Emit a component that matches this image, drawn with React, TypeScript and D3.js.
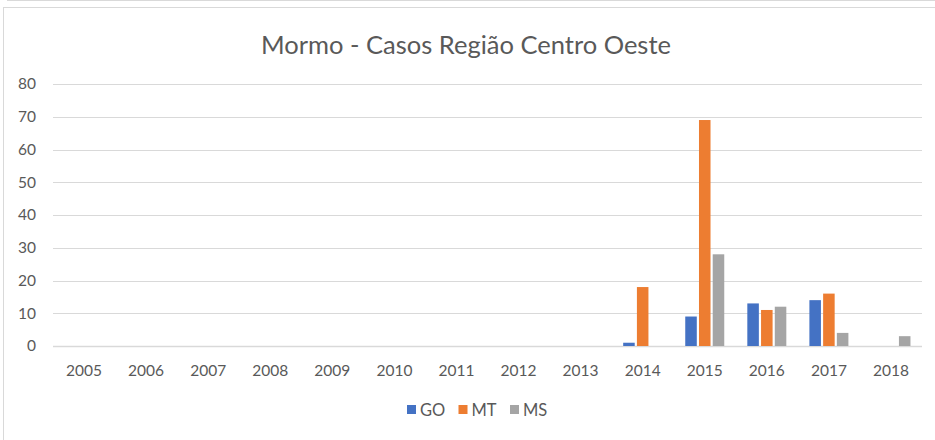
import React, { useEffect, useRef } from 'react';
import * as d3 from 'd3';

const years = ['2005', '2006', '2007', '2008', '2009', '2010', '2011', '2012', '2013', '2014', '2015', '2016', '2017', '2018'];
const seriesNames = ['GO', 'MT', 'MS'];
const seriesColors = ['#4472C4', '#ED7D31', '#A5A5A5'];
const goValues = [0, 0, 0, 0, 0, 0, 0, 0, 0, 1, 9, 13, 14, 0];
const mtValues = [0, 0, 0, 0, 0, 0, 0, 0, 0, 18, 69, 11, 16, 0];
const msValues = [0, 0, 0, 0, 0, 0, 0, 0, 0, 0, 28, 12, 4, 3];
const yTicks = [0, 10, 20, 30, 40, 50, 60, 70, 80];

const width = 935;
const height = 440;

const ColumnChart = () => {
    const svgRef = useRef<SVGSVGElement>(null);

    useEffect(() => {
        const svg = d3.select(svgRef.current);
        svg.selectAll('*').remove();

        const font = 'Lato, "Open Sans", sans-serif';
        const textColor = '#595959';
        const gridColor = '#d9d9d9';

        // chart frame
        svg.append('line')
            .attr('x1', 7).attr('x2', width).attr('y1', 0.5).attr('y2', 0.5)
            .attr('stroke', gridColor);
        svg.append('rect')
            .attr('x', 3.5).attr('y', 7.5)
            .attr('width', width).attr('height', height)
            .attr('fill', '#fff')
            .attr('stroke', gridColor);

        const plot = { left: 53, right: 922, top: 84, bottom: 346 };

        const x = d3.scaleBand()
            .domain(years)
            .range([plot.left, plot.right])
            .padding(0);

        const y = d3.scaleLinear()
            .domain([0, 80])
            .range([plot.bottom, plot.top]);

        const inner = d3.scaleBand()
            .domain(seriesNames)
            .range([-19.5, 19.5])
            .paddingInner(0.16)
            .paddingOuter(0);

        // title
        svg.append('text')
            .attr('x', 466)
            .attr('y', 54)
            .attr('text-anchor', 'middle')
            .attr('font-family', font)
            .attr('font-size', '25.5px')
            .attr('fill', textColor)
            .text('Mormo - Casos Região Centro Oeste');

        // gridlines
        svg.append('g')
            .selectAll('line')
            .data(yTicks)
            .enter()
            .append('line')
            .attr('x1', plot.left)
            .attr('x2', plot.right)
            .attr('y1', d => Math.round(y(d)) + 0.5)
            .attr('y2', d => Math.round(y(d)) + 0.5)
            .attr('stroke', gridColor)
            .attr('stroke-width', d => d === 0 ? 1.5 : 1);

        // y tick labels
        svg.append('g')
            .selectAll('text')
            .data(yTicks)
            .enter()
            .append('text')
            .attr('x', 36)
            .attr('y', d => y(d))
            .attr('dy', '0.35em')
            .attr('text-anchor', 'end')
            .attr('font-family', font)
            .attr('font-size', '15.5px')
            .attr('fill', textColor)
            .text(d => d);

        // x tick labels
        svg.append('g')
            .selectAll('text')
            .data(years)
            .enter()
            .append('text')
            .attr('x', d => x(d)! + x.bandwidth() / 2)
            .attr('y', 376)
            .attr('text-anchor', 'middle')
            .attr('font-family', font)
            .attr('font-size', '15.5px')
            .attr('fill', textColor)
            .text(d => d);

        // bars
        const seriesValues = [goValues, mtValues, msValues];
        const bars = seriesNames.flatMap((name, si) =>
            years.map((year, yi) => ({ name, year, value: seriesValues[si][yi], color: seriesColors[si] }))
        ).filter(d => d.value > 0);

        svg.append('g')
            .selectAll('rect')
            .data(bars)
            .enter()
            .append('rect')
            .attr('x', d => x(d.year)! + x.bandwidth() / 2 + inner(d.name)!)
            .attr('y', d => y(d.value))
            .attr('width', inner.bandwidth())
            .attr('height', d => y(0) - y(d.value))
            .attr('fill', d => d.color);

        // legend
        const legend = svg.append('g')
            .attr('transform', 'translate(407,405)');
        const item = legend.selectAll('g')
            .data(seriesNames)
            .enter()
            .append('g')
            .attr('transform', (d, i) => `translate(${i * 51.5},0)`);
        item.append('rect')
            .attr('width', 9)
            .attr('height', 9)
            .attr('fill', (d, i) => seriesColors[i]);
        item.append('text')
            .attr('x', 13)
            .attr('y', 4.5)
            .attr('dy', '0.38em')
            .attr('font-family', font)
            .attr('font-size', '16.5px')
            .attr('fill', textColor)
            .text(d => d);
    }, []);

    return <svg ref={svgRef} width={width} height={height} style={{ position: 'absolute', left: 0, top: 0 }} />;
};

export default function App() {
    return <ColumnChart />;
}
